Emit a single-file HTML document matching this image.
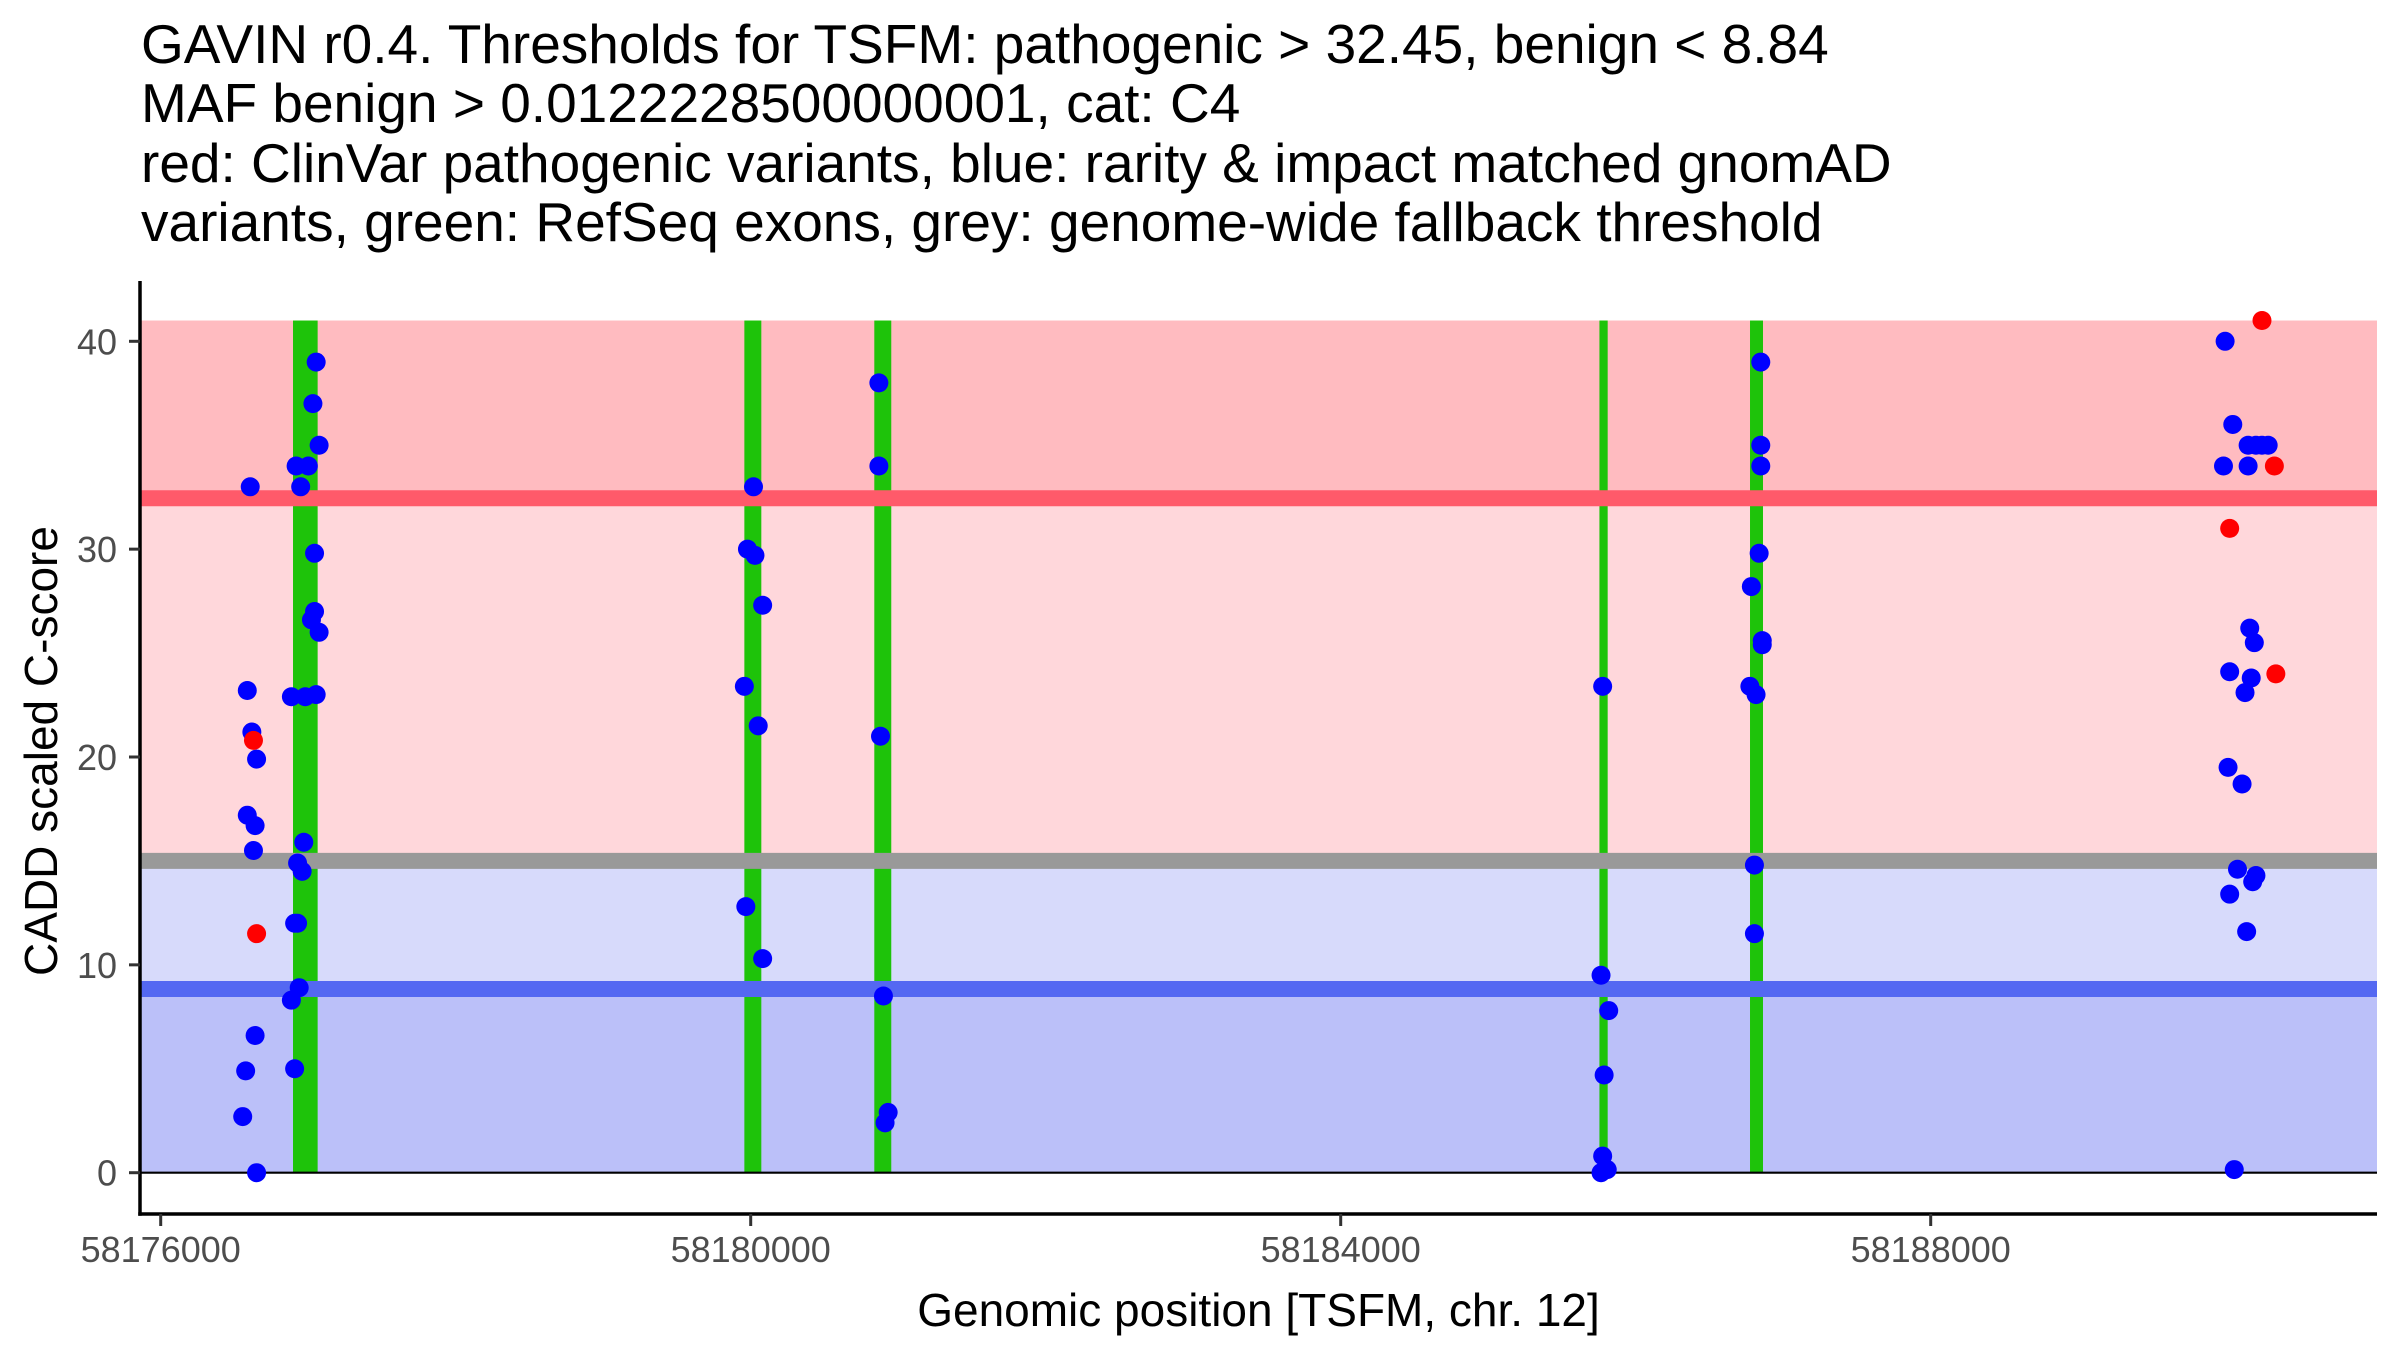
<!DOCTYPE html>
<html><head><meta charset="utf-8"><style>
html,body{margin:0;padding:0;background:#fff;}
svg{display:block;font-family:"Liberation Sans",Arial,sans-serif;}
</style></head><body>
<svg id="chart" width="2400" height="1350" viewBox="0 0 2400 1350" xmlns="http://www.w3.org/2000/svg">
<g font-size="55" fill="#000">
<text x="141" y="63">GAVIN r0.4. Thresholds for TSFM: pathogenic &gt; 32.45, benign &lt; 8.84</text>
<text x="141" y="122">MAF benign &gt; 0.0122228500000001, cat: C4</text>
<text x="141" y="182">red: ClinVar pathogenic variants, blue: rarity &amp; impact matched gnomAD</text>
<text x="141" y="241">variants, green: RefSeq exons, grey: genome-wide fallback threshold</text>
</g>
<g id="bands"></g><g id="exons"></g><g id="lines"></g><g id="points"></g><g id="axes"></g>
</svg>
<script>
const base = 58176000;
const exonStarts = [897, 3957, 4838, 9754, 10775];
const exonEnds = [1064, 4072, 4953, 9810, 10863];
const thresholds = [32.45, 15, 8.84];
const yTicks = [0, 10, 20, 30, 40];
const xTicks = [58176000, 58180000, 58184000, 58188000];
const blueX = [607,587,618,650,587,640,629,640,576,556,650,
 1054,1032,1074,918,1001,949,1043,1043,1022,1074,886,980,1054,970,928,959,908,928,939,886,908,
 4019,3978,4029,4081,3957,4051,3967,4081,
 4869,4869,4880,4900,4932,4911,
 9776,9765,9817,9786,9776,9807,9765,
 10848,10848,10848,10837,10784,10774,10816,10858,10858,10805,10805,
 13996,14048,14152,14205,14246,14288,13985,14152,14163,14194,14027,14173,14131,14016,14111,14080,14205,14183,14027,14142,14058];
const blueY = [33.0,23.2,21.2,19.9,17.2,16.7,15.5,6.6,4.9,2.7,0,
 39,37,35,34,34,33,29.8,27,26.6,26,22.9,22.9,23,15.9,14.9,14.5,12,12,8.9,8.3,5.0,
 33,30,29.7,27.3,23.4,21.5,12.8,10.3,
 38,34,21,8.5,2.9,2.4,
 23.4,9.5,7.8,4.7,0.8,0.15,0,
 39,35,34,29.8,28.2,23.4,23,25.6,25.4,14.8,11.5,
 40,36,35,35,35,35,34,34,26.2,25.5,24.1,23.8,23.1,19.5,18.7,14.6,14.3,14,13.4,11.6,0.15];
const redX = [629,650,14246,14330,14027,14340];
const redY = [20.8,11.5,41,34,31,24];

const NS = "http://www.w3.org/2000/svg";
const X0 = 160.7, PX4000 = 590, Y0 = 1172.7, PX10 = 207.85;
const xs = v => X0 + (v - base) * PX4000 / 4000;
const ys = v => Y0 - v * PX10 / 10;
const L = 140, R = 2377, AXY = 1214;
function mk(tag, attrs, parent){const e=document.createElementNS(NS,tag);for(const k in attrs)e.setAttribute(k,attrs[k]);document.getElementById(parent).appendChild(e);return e;}

const bandDefs = [[41, thresholds[0], "#FFBBC0","band-pathogenic"],[thresholds[0], thresholds[1], "#FFD7DB","band-uncertain-high"],[thresholds[1], thresholds[2], "#D7DAFB","band-uncertain-low"],[thresholds[2], 0, "#BBC0F9","band-benign"]];
bandDefs.forEach(b=>{
 const r=mk("rect",{x:L,y:ys(b[0]),width:R-L,height:ys(b[1])-ys(b[0]),fill:b[2]},"bands");
 
 
});
exonStarts.forEach((s,i)=>{
 const r=mk("rect",{x:xs(base+s),y:ys(41),width:xs(base+exonEnds[i])-xs(base+s),height:ys(0)-ys(41),fill:"#1EC30A"},"exons");
 
 
});
const lineCols = ["#FF5A6A","#999999","#5468F2"];
const lineNames = ["pathogenic-threshold-line","fallback-threshold-line","benign-threshold-line"];
thresholds.forEach((t,i)=>{
 const l=mk("line",{x1:L,x2:R,y1:ys(t),y2:ys(t),stroke:lineCols[i],"stroke-width":16},"lines");
 
 
});
const z=mk("line",{x1:L,x2:R,y1:ys(0),y2:ys(0),stroke:"#000","stroke-width":2.2},"lines");


blueX.forEach((x,i)=>{
 const c=mk("circle",{cx:xs(base+x),cy:ys(blueY[i]),r:9.5,fill:"#0000FF"},"points");
 
 
});
redX.forEach((x,i)=>{
 const c=mk("circle",{cx:xs(base+x),cy:ys(redY[i]),r:9.5,fill:"#FF0000"},"points");
 
 
});
const ya=mk("line",{x1:L,x2:L,y1:281,y2:AXY+1.75,stroke:"#000","stroke-width":3.5},"axes");


const xa=mk("line",{x1:L-1.75,x2:R,y1:AXY,y2:AXY,stroke:"#000","stroke-width":3.5},"axes");


yTicks.forEach(t=>{
 const tk=mk("line",{x1:129,x2:L,y1:ys(t),y2:ys(t),stroke:"#333","stroke-width":3},"axes");
 
 
 const tx=mk("text",{x:117,y:ys(t)+13,"text-anchor":"end","font-size":36,fill:"#4D4D4D"},"axes");
 tx.textContent=t;
 
 
});
xTicks.forEach(t=>{
 const tk=mk("line",{x1:xs(t),x2:xs(t),y1:AXY,y2:AXY+12,stroke:"#333","stroke-width":3},"axes");
 
 
 const tx=mk("text",{x:xs(t),y:1262,"text-anchor":"middle","font-size":36,fill:"#4D4D4D"},"axes");
 tx.textContent=t;
 
 
});
const xt=mk("text",{x:(L+R)/2,y:1326,"text-anchor":"middle","font-size":46,fill:"#000"},"axes");
xt.textContent="Genomic position [TSFM, chr. 12]";


const yt=mk("text",{x:0,y:0,"text-anchor":"middle","font-size":46,fill:"#000",transform:"translate(57,751) rotate(-90)"},"axes");
yt.textContent="CADD scaled C-score";


</script>
</body></html>
